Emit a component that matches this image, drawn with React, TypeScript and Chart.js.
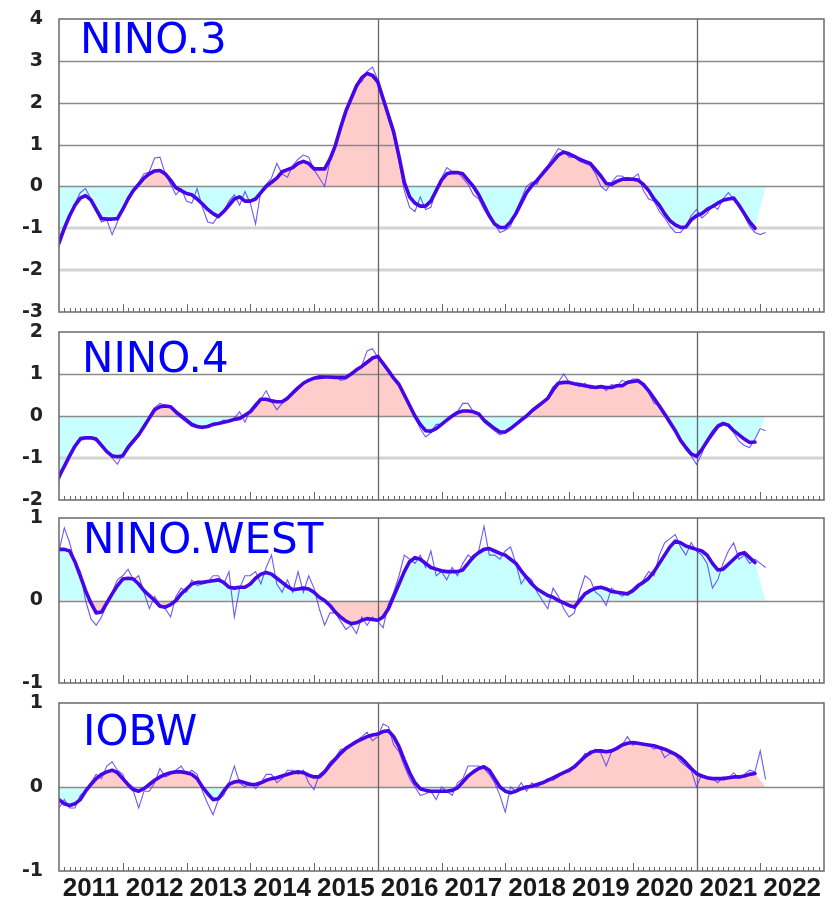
import React, { useEffect, useRef } from 'react';
import { Chart, registerables } from 'chart.js';

Chart.register(...registerables);

// ---------- axis data ----------
const YEAR_LABELS = ['2011', '2012', '2013', '2014', '2015', '2016', '2017', '2018', '2019', '2020', '2021', '2022'];
const MONTHS_SPAN = 144; // Jan 2011 .. Dec 2022
const FIVE_YEAR_MARKS = [60, 120]; // Jan 2016, Jan 2021 (months since Jan 2011)

// ---------- series data (monthly anomalies from Jan 2011; running mean) ----------
const NINO3_MONTHLY = [
  -1.45, -1.05, -0.75, -0.4, -0.15, -0.05, -0.3, -0.6, -0.85, -0.8,
  -1.15, -0.85, -0.5, -0.25, -0.05, 0.1, 0.3, 0.35, 0.68, 0.7,
  0.3, 0.05, -0.2, -0.05, -0.35, -0.4, -0.05, -0.5, -0.85, -0.88,
  -0.7, -0.6, -0.35, -0.2, -0.45, -0.12, -0.4, -0.9, -0.1, 0.05,
  0.2, 0.55, 0.3, 0.22, 0.5, 0.65, 0.75, 0.7, 0.4, 0.2,
  0.0, 0.6, 1.0, 1.4, 1.85, 2.15, 2.45, 2.5, 2.75, 2.85,
  2.55, 2.1, 1.6, 1.2, 0.6, -0.1, -0.5, -0.6, -0.25, -0.55,
  -0.5, -0.05, 0.2, 0.45, 0.35, 0.35, 0.2, 0.05, -0.2, -0.3,
  -0.55, -0.75, -0.9, -1.1, -1.05, -0.95, -0.6, -0.3, 0.0, 0.1,
  0.05, 0.35, 0.5, 0.7, 0.9, 0.85, 0.7, 0.7, 0.6, 0.55,
  0.5, 0.3, 0.0, -0.1, 0.1, 0.25, 0.25, 0.15, 0.2, 0.3,
  -0.1, -0.3, -0.35, -0.6, -0.75, -0.95, -1.1, -1.1, -0.95, -0.7,
  -0.55, -0.75, -0.65, -0.45, -0.55, -0.3, -0.15, -0.3, -0.45, -0.7,
  -0.95, -1.1, -1.15, -1.1,
];
const NINO3_MEAN = [
  -1.34, -1.0, -0.7, -0.45, -0.28, -0.22, -0.32, -0.55, -0.77, -0.78,
  -0.78, -0.77, -0.55, -0.3, -0.1, 0.05, 0.2, 0.3, 0.37, 0.38,
  0.3, 0.15, -0.03, -0.1, -0.17, -0.2, -0.3, -0.42, -0.55, -0.65,
  -0.72, -0.6, -0.45, -0.3, -0.25, -0.35, -0.35, -0.3, -0.15, 0.0,
  0.1, 0.2, 0.35, 0.4, 0.45, 0.55, 0.6, 0.55, 0.42, 0.42,
  0.42, 0.65, 0.97, 1.4, 1.8, 2.1, 2.4, 2.6, 2.7, 2.65,
  2.5, 2.1, 1.7, 1.3, 0.72, 0.1, -0.25, -0.4, -0.47, -0.47,
  -0.35, -0.1, 0.15, 0.3, 0.33, 0.33, 0.3, 0.15, 0.0, -0.2,
  -0.45, -0.7, -0.9, -0.98, -0.98, -0.85, -0.65, -0.4, -0.15, 0.02,
  0.15, 0.3, 0.45, 0.6, 0.75, 0.82, 0.78, 0.72, 0.65, 0.6,
  0.55, 0.4, 0.25, 0.07, 0.05, 0.12, 0.17, 0.18, 0.17, 0.15,
  0.05, -0.1, -0.3, -0.45, -0.65, -0.82, -0.92, -0.98, -0.97, -0.8,
  -0.7, -0.65, -0.55, -0.48, -0.4, -0.33, -0.3, -0.28, -0.45, -0.65,
  -0.85, -1.0,
];

const NINO4_MONTHLY = [
  -1.55, -1.2, -0.9, -0.7, -0.5, -0.5, -0.5, -0.6, -0.72, -0.85,
  -1.0, -1.15, -0.9, -0.7, -0.55, -0.4, -0.3, 0.0, 0.2, 0.3,
  0.25, 0.2, 0.05, -0.05, -0.15, -0.25, -0.28, -0.3, -0.22, -0.2,
  -0.18, -0.1, -0.12, -0.05, 0.1, -0.15, 0.15, 0.3, 0.4, 0.6,
  0.35, 0.15, 0.3, 0.45, 0.55, 0.7, 0.8, 0.85, 0.92, 0.97,
  0.95, 0.9, 0.95, 0.85, 0.88, 1.0, 1.1, 1.2, 1.55, 1.6,
  1.4, 1.3, 1.1, 0.9, 0.75, 0.5, 0.2, -0.05, -0.3, -0.5,
  -0.4, -0.2, -0.2, -0.1, 0.0, 0.1, 0.3, 0.3, 0.1, 0.05,
  -0.15, -0.25, -0.35, -0.45, -0.4, -0.3, -0.2, -0.05, 0.0, 0.15,
  0.25, 0.3, 0.45, 0.7, 0.8, 1.0, 0.8, 0.75, 0.7, 0.78,
  0.65, 0.7, 0.72, 0.6, 0.75, 0.7, 0.85, 0.8, 0.88, 0.88,
  0.75, 0.55, 0.3, 0.25, 0.0, -0.2, -0.35, -0.6, -0.8, -0.95,
  -1.15, -0.9, -0.55, -0.35, -0.2, -0.15, -0.2, -0.4, -0.6, -0.7,
  -0.75, -0.55, -0.3, -0.35,
];
const NINO4_MEAN = [
  -1.44, -1.2, -0.95, -0.72, -0.55, -0.52, -0.52, -0.55, -0.7, -0.85,
  -0.95, -0.97, -0.95, -0.75, -0.6, -0.45, -0.25, -0.05, 0.15, 0.22,
  0.24, 0.22, 0.1, 0.0, -0.1, -0.2, -0.25, -0.27, -0.25, -0.2,
  -0.18, -0.15, -0.12, -0.08, -0.06, 0.02, 0.1, 0.25, 0.4, 0.4,
  0.36, 0.34, 0.34, 0.42, 0.55, 0.67, 0.78, 0.85, 0.9, 0.92,
  0.93, 0.93, 0.92, 0.92, 0.92, 1.0, 1.1, 1.18, 1.28, 1.38,
  1.42, 1.25, 1.08, 0.9, 0.75, 0.5, 0.25, 0.0, -0.2, -0.35,
  -0.36, -0.3, -0.2, -0.1, 0.0, 0.08, 0.12, 0.12, 0.1, 0.05,
  -0.1, -0.2, -0.3, -0.38, -0.38, -0.3, -0.2, -0.1, 0.0, 0.12,
  0.22, 0.32, 0.42, 0.62, 0.78, 0.8, 0.8, 0.77, 0.75, 0.72,
  0.7, 0.68, 0.7, 0.68, 0.68, 0.72, 0.72, 0.8, 0.82, 0.84,
  0.75, 0.6, 0.42, 0.24, 0.05, -0.15, -0.35, -0.58, -0.75, -0.9,
  -0.96, -0.8, -0.6, -0.42, -0.25, -0.18, -0.22, -0.35, -0.45, -0.55,
  -0.63, -0.62,
];

const NINOWEST_MONTHLY = [
  0.6, 0.88, 0.7, 0.45, 0.35, 0.0, -0.22, -0.3, -0.2, -0.05,
  0.1, 0.25, 0.3, 0.38, 0.25, 0.3, 0.1, -0.1, 0.05, -0.05,
  -0.1, -0.2, 0.05, 0.15, 0.1, 0.25, 0.18, 0.2, 0.22, 0.3,
  0.3, 0.2, 0.35, -0.2, 0.15, 0.3, 0.3, 0.35, 0.2, 0.4,
  0.55, 0.2, 0.1, 0.25, 0.1, 0.35, 0.1, 0.3, 0.15, -0.1,
  -0.3, -0.15, -0.15, -0.25, -0.35, -0.3, -0.4, -0.2, -0.3, -0.2,
  -0.25, -0.33, -0.05, 0.1, 0.3, 0.55, 0.5, 0.45, 0.55, 0.4,
  0.6, 0.3, 0.35, 0.25, 0.4, 0.3, 0.45, 0.55, 0.5, 0.6,
  0.9, 0.55, 0.55, 0.5, 0.6, 0.65, 0.45, 0.2, 0.3, 0.25,
  0.1, 0.0, -0.1, 0.15, 0.05, -0.1, -0.2, -0.15, 0.1, 0.3,
  0.25, 0.1, 0.05, -0.06, 0.15, 0.1, 0.05, 0.1, 0.1, 0.15,
  0.25, 0.35, 0.3, 0.55, 0.7, 0.75, 0.8, 0.65, 0.55, 0.7,
  0.6, 0.55, 0.45, 0.15, 0.25, 0.45, 0.6, 0.7, 0.5, 0.55,
  0.45, 0.5, 0.45, 0.4,
];
const NINOWEST_MEAN = [
  0.62, 0.62, 0.6, 0.47, 0.3, 0.12, -0.03, -0.15, -0.14, -0.03,
  0.08, 0.18, 0.26, 0.27, 0.26, 0.2, 0.12, 0.06, 0.0, -0.07,
  -0.08, -0.05, 0.0, 0.08, 0.14, 0.2, 0.22, 0.22, 0.23, 0.24,
  0.25, 0.22, 0.16, 0.15, 0.16, 0.16, 0.2, 0.27, 0.32, 0.34,
  0.32, 0.27, 0.22, 0.17, 0.13, 0.14, 0.15, 0.14, 0.1, 0.04,
  0.0, -0.06, -0.14, -0.2, -0.25, -0.28, -0.27, -0.24, -0.22, -0.23,
  -0.24, -0.2, -0.1, 0.05, 0.2, 0.35, 0.47, 0.52, 0.5, 0.45,
  0.4, 0.38, 0.36, 0.35, 0.35, 0.35, 0.37, 0.45, 0.53, 0.58,
  0.62, 0.63, 0.6, 0.57, 0.55, 0.5, 0.45, 0.36, 0.28, 0.2,
  0.14, 0.1, 0.06, 0.04, 0.0, -0.03, -0.06, -0.08, 0.0, 0.08,
  0.12, 0.15, 0.16, 0.14, 0.11, 0.1, 0.09, 0.08, 0.12, 0.18,
  0.22, 0.27, 0.35, 0.45, 0.55, 0.65, 0.72, 0.7, 0.66, 0.64,
  0.62, 0.6, 0.55, 0.45, 0.37, 0.38, 0.44, 0.5, 0.56, 0.58,
  0.52, 0.46,
];

const IOBW_MONTHLY = [
  -0.25, -0.15, -0.25, -0.25, -0.1, -0.05, 0.05, 0.15, 0.1, 0.25,
  0.3, 0.2, 0.15, 0.0, -0.05, -0.25, -0.05, -0.05, 0.05, 0.22,
  0.12, 0.15, 0.2, 0.25, 0.15, 0.2, 0.15, -0.05, -0.2, -0.33,
  -0.15, -0.1, 0.05, 0.25, 0.05, 0.0, 0.05, -0.02, 0.05, 0.15,
  0.15, 0.05, 0.1, 0.2, 0.2, 0.15, 0.2, 0.05, -0.03, 0.15,
  0.2, 0.3, 0.35, 0.45, 0.45, 0.5, 0.55, 0.6, 0.65, 0.55,
  0.6, 0.75, 0.72, 0.5, 0.42, 0.25, 0.1, 0.0, -0.1, -0.08,
  -0.05, -0.15, 0.0, -0.05, -0.1, 0.05, 0.1, 0.25, 0.25, 0.25,
  0.22, 0.15, 0.05, -0.1, -0.3, 0.0, -0.05, 0.05, -0.05, 0.05,
  0.0, 0.05, 0.1, 0.08, 0.12, 0.17, 0.18, 0.25, 0.3, 0.4,
  0.38, 0.45, 0.4, 0.25, 0.42, 0.45, 0.5, 0.6, 0.5, 0.52,
  0.5, 0.5, 0.45, 0.48, 0.35, 0.4, 0.38, 0.3, 0.25, 0.2,
  0.0, 0.15, 0.1, 0.1, 0.05, 0.12, 0.1, 0.17, 0.1, 0.15,
  0.2, 0.18, 0.43, 0.09,
];
const IOBW_MEAN = [
  -0.15, -0.2, -0.22, -0.2, -0.15, -0.05, 0.03, 0.1, 0.15, 0.18,
  0.2, 0.17, 0.1, 0.03, -0.03, -0.05, -0.02, 0.03, 0.08, 0.12,
  0.15, 0.17, 0.18, 0.18, 0.17, 0.15, 0.1, 0.0, -0.08, -0.15,
  -0.14, -0.05, 0.03, 0.06, 0.07, 0.05, 0.03, 0.03, 0.05, 0.08,
  0.1, 0.11, 0.13, 0.15, 0.17, 0.18, 0.17, 0.14, 0.12, 0.12,
  0.18, 0.26, 0.33, 0.4, 0.46, 0.5, 0.54, 0.57, 0.6, 0.62,
  0.63, 0.66, 0.67, 0.6, 0.48, 0.32, 0.17, 0.05, -0.02, -0.04,
  -0.05, -0.05, -0.05, -0.05, -0.04, -0.01, 0.06, 0.13, 0.18, 0.22,
  0.24, 0.2, 0.1, 0.0, -0.05, -0.07, -0.05, -0.02, 0.0, 0.01,
  0.03, 0.05, 0.08, 0.11, 0.14, 0.17, 0.2, 0.24, 0.3, 0.36,
  0.41, 0.43, 0.43, 0.42, 0.43, 0.46, 0.5, 0.52, 0.53, 0.52,
  0.51, 0.5, 0.49, 0.47, 0.45, 0.42, 0.39, 0.35, 0.29, 0.22,
  0.16, 0.13, 0.11, 0.1, 0.1, 0.1, 0.11, 0.12, 0.12, 0.13,
  0.15, 0.16,
];

// ---------- panels ----------
type PanelDef = {
  title: string;
  monthly: number[];
  mean: number[];
  yMin: number;
  yMax: number;
  warmAbove: boolean;
};

const PANELS: PanelDef[] = [
  { title: 'NINO.3', monthly: NINO3_MONTHLY, mean: NINO3_MEAN, yMin: -3, yMax: 4, warmAbove: true },
  { title: 'NINO.4', monthly: NINO4_MONTHLY, mean: NINO4_MEAN, yMin: -2, yMax: 2, warmAbove: true },
  { title: 'NINO.WEST', monthly: NINOWEST_MONTHLY, mean: NINOWEST_MEAN, yMin: -1, yMax: 1, warmAbove: false },
  { title: 'IOBW', monthly: IOBW_MONTHLY, mean: IOBW_MEAN, yMin: -1, yMax: 1, warmAbove: true },
];

// layout (positions/sizes only)
const LAYOUT = [
  { top: 0, height: 325, padTop: 19, padBottom: 13, titleDx: 21, titleBase: 34, showX: false },
  { top: 318, height: 195, padTop: 14, padBottom: 13, titleDx: 23, titleBase: 40, showX: false },
  { top: 504, height: 193, padTop: 14, padBottom: 14, titleDx: 24, titleBase: 35, showX: false },
  { top: 689, height: 208, padTop: 14, padBottom: 0, titleDx: 24, titleBase: 42, showX: true },
];

const WIDTH = 834;
const WARM = '#ffcccc';
const COOL = '#c8ffff';
const THICK = '#4606e8';
const THIN = 'rgba(85,60,245,0.85)';

function makeDecor(title: string, lay: any) {
  return {
    id: 'panelDecor',
    afterDatasetDraw(chart: any, args: any) {
      if (args.index !== 0) return;
      const { ctx, chartArea: a } = chart;
      const xs = chart.scales.x;
      const ys = chart.scales.y;
      ctx.save();
      for (const t of ys.ticks) {
        if (t.value <= ys.min || t.value >= ys.max) continue;
        const light = t.value < 0;
        const py = Math.round(ys.getPixelForValue(t.value)) + (light ? 0 : 0.5);
        ctx.beginPath();
        ctx.strokeStyle = light ? '#d3d3d3' : '#8a8a8a';
        ctx.lineWidth = light ? 3 : 1.3;
        ctx.moveTo(a.left, py);
        ctx.lineTo(a.right, py);
        ctx.stroke();
      }
      for (const m of FIVE_YEAR_MARKS) {
        const px = Math.round(xs.getPixelForValue(m)) + 0.5;
        ctx.beginPath();
        ctx.strokeStyle = '#666666';
        ctx.lineWidth = 1.3;
        ctx.moveTo(px, a.top);
        ctx.lineTo(px, a.bottom);
        ctx.stroke();
      }
      ctx.restore();
    },
    afterDraw(chart: any) {
      const { ctx, chartArea: a } = chart;
      const xs = chart.scales.x;
      ctx.save();
      ctx.strokeStyle = '#666666';
      ctx.lineWidth = 1;
      for (let m = 1; m < MONTHS_SPAN; m++) {
        const px = Math.round(xs.getPixelForValue(m)) + 0.5;
        const len = m % 12 === 0 ? 8 : 4;
        ctx.beginPath();
        ctx.moveTo(px, a.bottom);
        ctx.lineTo(px, a.bottom - len);
        ctx.stroke();
      }
      ctx.strokeStyle = '#6a6a6a';
      ctx.lineWidth = 1.5;
      ctx.strokeRect(a.left, a.top, a.right - a.left, a.bottom - a.top);
      ctx.fillStyle = '#0000ff';
      ctx.font = '42px "DejaVu Sans"';
      ctx.textBaseline = 'alphabetic';
      ctx.textAlign = 'left';
      ctx.fillText(title, a.left + lay.titleDx, a.top + lay.titleBase);
      ctx.restore();
    },
  };
}

function Panel({ def, lay }: { def: PanelDef; lay: any }) {
  const ref = useRef<HTMLCanvasElement>(null);
  useEffect(() => {
    const canvas = ref.current;
    if (!canvas) return;
    const monthlyPts = def.monthly.map((v, i) => ({ x: i, y: v }));
    const meanPts = def.mean.map((v, i) => ({ x: i, y: v }));
    const fillPts = meanPts.concat([{ x: def.monthly.length - 1, y: 0 }]);
    const chart = new Chart(canvas, {
      type: 'line',
      data: {
        datasets: [
          {
            data: fillPts,
            borderColor: 'transparent',
            borderWidth: 0,
            pointRadius: 0,
            tension: 0,
            order: 3,
            fill: {
              target: 'origin',
              above: def.warmAbove ? WARM : COOL,
              below: def.warmAbove ? COOL : WARM,
            },
          },
          {
            data: monthlyPts,
            borderColor: THIN,
            borderWidth: 1.1,
            pointRadius: 0,
            tension: 0,
            fill: false,
            order: 2,
          },
          {
            data: meanPts,
            borderColor: THICK,
            borderWidth: 3.6,
            borderJoinStyle: 'round',
            borderCapStyle: 'round',
            pointRadius: 0,
            tension: 0,
            fill: false,
            order: 1,
          },
        ],
      } as any,
      options: {
        animation: false,
        responsive: false,
        devicePixelRatio: 1,
        events: [],
        layout: { autoPadding: false, padding: { top: lay.padTop, bottom: lay.padBottom, left: 0, right: 10 } },
        plugins: { legend: { display: false }, tooltip: { enabled: false }, title: { display: false } },
        scales: {
          x: {
            type: 'linear',
            min: 0,
            max: MONTHS_SPAN,
            display: lay.showX,
            grid: { display: false, drawTicks: false },
            border: { display: false },
            afterBuildTicks: (scale: any) => {
              scale.ticks = YEAR_LABELS.map((_, k) => ({ value: k * 12 + 6 }));
            },
            afterFit: (scale: any) => {
              scale.height = lay.showX ? 26 : 0;
            },
            ticks: {
              autoSkip: false,
              maxRotation: 0,
              padding: 2,
              color: '#1a1a1a',
              font: { family: '"Liberation Sans", Arial, sans-serif', size: 26, weight: 'bold' },
              callback: (value: any) => YEAR_LABELS[Math.floor(Number(value) / 12)] ?? '',
            },
          },
          y: {
            type: 'linear',
            min: def.yMin,
            max: def.yMax,
            grid: {
              display: true,
              drawOnChartArea: false,
              color: 'transparent',
              drawTicks: true,
              tickLength: 16,
              tickColor: 'transparent',
            },
            border: { display: false },
            afterFit: (scale: any) => {
              scale.width = 59;
            },
            ticks: {
              stepSize: 1,
              padding: 0,
              color: '#222222',
              font: { family: '"DejaVu Sans", sans-serif', size: 19, weight: 'bold' },
            },
          },
        },
      } as any,
      plugins: [makeDecor(def.title, lay)],
    });
    return () => chart.destroy();
  }, []);
  return (
    <canvas
      ref={ref}
      width={WIDTH}
      height={lay.height}
      style={{ position: 'absolute', left: 0, top: lay.top, width: WIDTH, height: lay.height }}
    />
  );
}

export default function App() {
  return (
    <div
      style={{
        position: 'absolute',
        left: 0,
        top: 0,
        width: WIDTH,
        height: 897,
        overflow: 'hidden',
        background: '#ffffff',
      }}
    >
      {PANELS.map((p, i) => (
        <Panel key={p.title} def={p} lay={LAYOUT[i]} />
      ))}
    </div>
  );
}
